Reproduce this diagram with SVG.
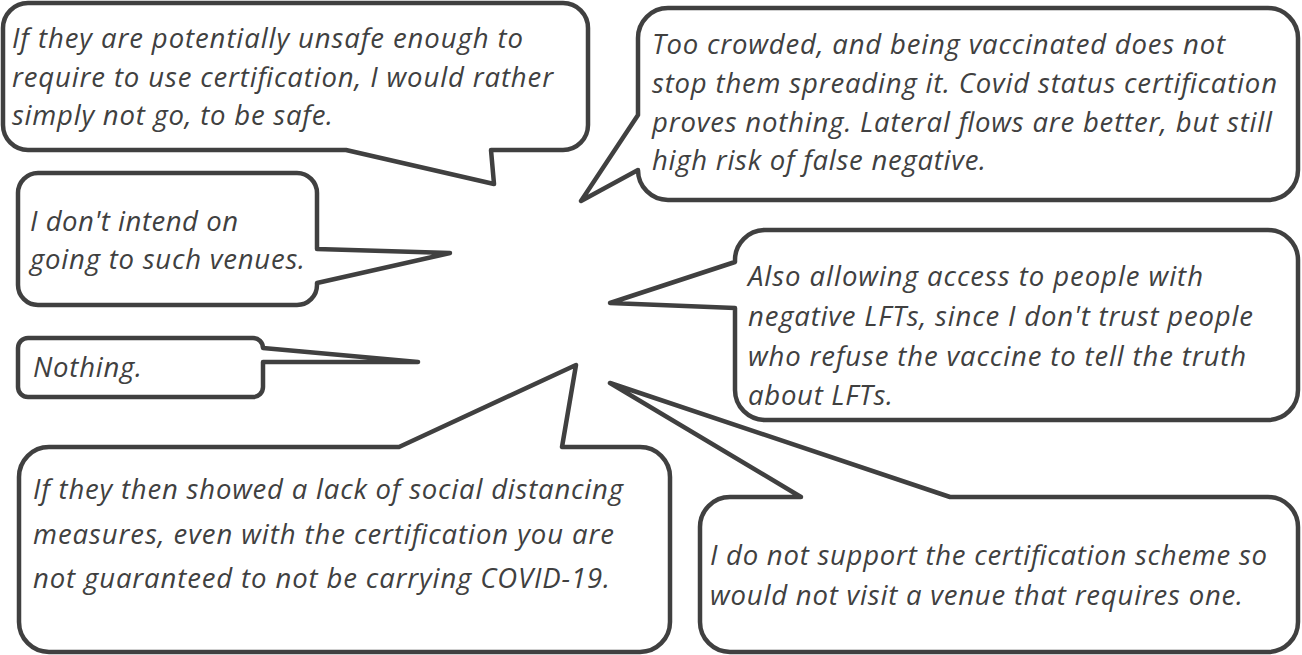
<svg xmlns="http://www.w3.org/2000/svg" width="1302" height="655" viewBox="0 0 1302 655">
<style>
.bubble{fill:#ffffff;stroke:#404040;stroke-width:4.5;stroke-linejoin:round}
.t{font-family:"Open Sans","Noto Sans","Liberation Sans",sans-serif;font-style:italic;font-size:27.5px;fill:#404040}
</style>
<rect x="0" y="0" width="1302" height="655" fill="#ffffff"/>
<g id="callout-unsafe">
<path class="bubble" d="M 28,3 H 563 A 25 25 0 0 1 588,28 V 125 A 25 25 0 0 1 563,150 H 491 L 494,184 L 346,150 H 28 A 25 25 0 0 1 3,125 V 28 A 25 25 0 0 1 28,3 Z"/>
<text class="t" x="12" y="48" textLength="511">If they are potentially unsafe enough to</text>
<text class="t" x="12" y="87" textLength="541">require to use certification, I would rather</text>
<text class="t" x="12" y="125" textLength="321">simply not go, to be safe.</text>
</g>
<g id="callout-crowded">
<path class="bubble" d="M 668,8 H 1268 A 30 30 0 0 1 1298,38 V 170 A 30 30 0 0 1 1268,200 H 668 A 30 30 0 0 1 638,170 L 581,201 L 638,115 V 38 A 30 30 0 0 1 668,8 Z"/>
<text class="t" x="652" y="54" textLength="573">Too crowded, and being vaccinated does not</text>
<text class="t" x="652" y="93" textLength="625">stop them spreading it. Covid status certification</text>
<text class="t" x="652" y="132" textLength="620">proves nothing. Lateral flows are better, but still</text>
<text class="t" x="652" y="170" textLength="334">high risk of false negative.</text>
</g>
<g id="callout-intend">
<path class="bubble" d="M 38,173 H 297 A 20 20 0 0 1 317,193 V 249 L 450,253 L 317,283 V 285 A 20 20 0 0 1 297,305 H 38 A 20 20 0 0 1 18,285 V 193 A 20 20 0 0 1 38,173 Z"/>
<text class="t" x="30" y="231" textLength="208">I don't intend on</text>
<text class="t" x="30" y="269" textLength="275">going to such venues.</text>
</g>
<g id="callout-lft">
<path class="bubble" d="M 765,230 H 1268 A 30 30 0 0 1 1298,260 V 390 A 30 30 0 0 1 1268,420 H 765 A 30 30 0 0 1 735,390 V 308 L 610,303 L 735,262 V 260 A 30 30 0 0 1 765,230 Z"/>
<text class="t" x="748" y="286" textLength="455">Also allowing access to people with</text>
<text class="t" x="748" y="326" textLength="505">negative LFTs, since I don't trust people</text>
<text class="t" x="748" y="366" textLength="498">who refuse the vaccine to tell the truth</text>
<text class="t" x="748" y="405" textLength="145">about LFTs.</text>
</g>
<g id="callout-nothing">
<path class="bubble" d="M 28,338 H 253 A 10 10 0 0 1 263,348 L 418,362 L 263,362 V 387 A 10 10 0 0 1 253,397 H 28 A 10 10 0 0 1 18,387 V 348 A 10 10 0 0 1 28,338 Z"/>
<text class="t" x="33" y="377" textLength="109">Nothing.</text>
</g>
<g id="callout-distancing">
<path class="bubble" d="M 49,447 H 399 L 576,365 L 562,447 H 640 A 30 30 0 0 1 670,477 V 622 A 30 30 0 0 1 640,652 H 49 A 30 30 0 0 1 19,622 V 477 A 30 30 0 0 1 49,447 Z"/>
<text class="t" x="33" y="499" textLength="590">If they then showed a lack of social distancing</text>
<text class="t" x="33" y="544" textLength="581">measures, even with the certification you are</text>
<text class="t" x="33" y="588" textLength="577">not guaranteed to not be carrying COVID-19.</text>
</g>
<g id="callout-scheme">
<path class="bubble" d="M 730,497 H 801 L 610,383 L 950,497 H 1268 A 30 30 0 0 1 1298,527 V 622 A 30 30 0 0 1 1268,652 H 730 A 30 30 0 0 1 700,622 V 527 A 30 30 0 0 1 730,497 Z"/>
<text class="t" x="710" y="565" textLength="557">I do not support the certification scheme so</text>
<text class="t" x="710" y="605" textLength="533">would not visit a venue that requires one.</text>
</g>
</svg>
